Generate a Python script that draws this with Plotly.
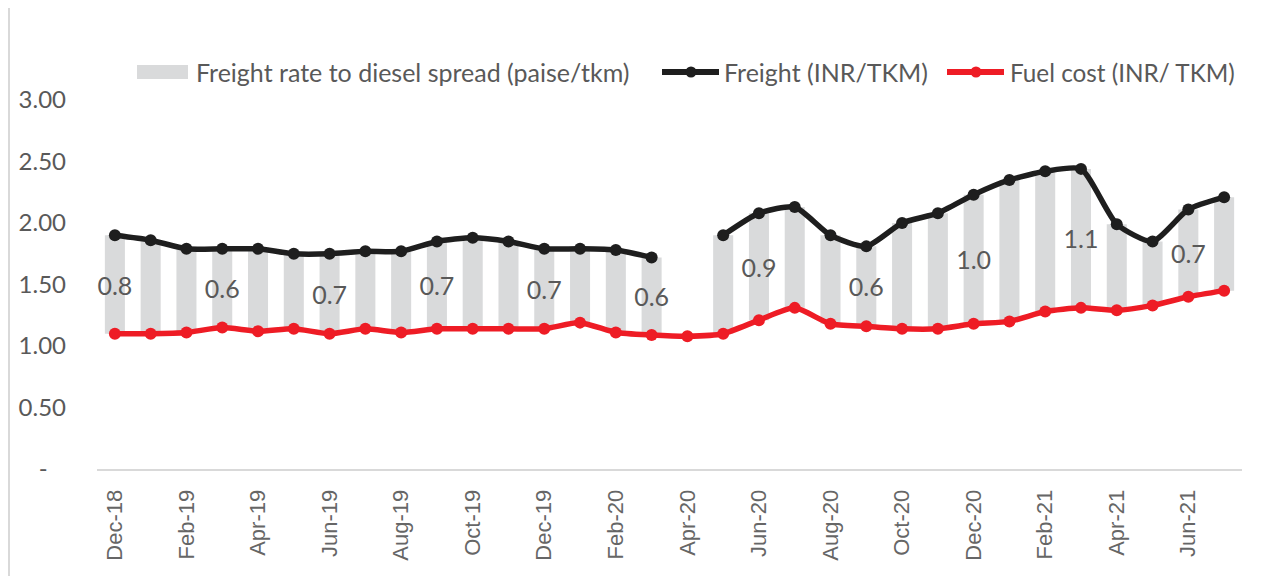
import plotly.graph_objects as go

months = ["Dec-18", "Jan-19", "Feb-19", "Mar-19", "Apr-19", "May-19", "Jun-19", "Jul-19",
          "Aug-19", "Sep-19", "Oct-19", "Nov-19", "Dec-19", "Jan-20", "Feb-20", "Mar-20",
          "Apr-20", "May-20", "Jun-20", "Jul-20", "Aug-20", "Sep-20", "Oct-20", "Nov-20",
          "Dec-20", "Jan-21", "Feb-21", "Mar-21", "Apr-21", "May-21", "Jun-21", "Jul-21"]

freight = [1.90, 1.86, 1.79, 1.79, 1.79, 1.75, 1.75, 1.77, 1.77, 1.85, 1.88, 1.85,
           1.79, 1.79, 1.78, 1.72, None, 1.90, 2.08, 2.13, 1.90, 1.81, 2.00, 2.08,
           2.23, 2.35, 2.42, 2.44, 1.99, 1.85, 2.11, 2.21]

fuel = [1.10, 1.10, 1.11, 1.15, 1.12, 1.14, 1.10, 1.14, 1.11, 1.14, 1.14, 1.14,
        1.14, 1.19, 1.11, 1.09, 1.08, 1.10, 1.21, 1.31, 1.18, 1.16, 1.14, 1.14,
        1.18, 1.20, 1.28, 1.31, 1.29, 1.33, 1.40, 1.45]

spread_labels = ["0.8", "", "", "0.6", "", "", "0.7", "", "", "0.7", "", "",
                 "0.7", "", "", "0.6", "", "", "0.9", "", "", "0.6", "", "",
                 "1.0", "", "", "1.1", "", "", "0.7", ""]

x_tick_labels = months[::2]
y_tick_vals = [0, 0.5, 1.0, 1.5, 2.0, 2.5, 3.0]
y_tick_text = ["-\u00a0\u00a0\u00a0", "0.50", "1.00", "1.50", "2.00", "2.50", "3.00"]

legend_names = ["Freight rate to diesel spread (paise/tkm)", "Freight (INR/TKM)", "Fuel cost (INR/ TKM)"]

spread = [None if f is None else f - c for f, c in zip(freight, fuel)]

GRAY_TXT = "#595959"
BAR_C = "#D9DADB"
BLACK_C = "#1E1E1E"
RED_C = "#EE1C25"

W, H = 1262, 576
# page body has an 8px margin, compensate in margins
ML, MR, MT, MB = 89, 28, 92, 115
PW = W - ML - MR
PH = H - MT - MB


def px(x):
    return (x - 8 - ML) / PW


def py(y):
    return 1 - (y - 8 - MT) / PH


fig = go.Figure()
fig.add_trace(go.Bar(
    x=months, y=spread, base=fuel, name=legend_names[0], showlegend=False,
    marker=dict(color=BAR_C, line=dict(width=0)),
    text=spread_labels, textposition="inside", insidetextanchor="middle",
    textangle=0, constraintext="none",
    textfont=dict(family="Lato", size=25, color=GRAY_TXT),
))
fig.add_trace(go.Scatter(
    x=months, y=freight, name=legend_names[1], mode="lines+markers", showlegend=False,
    line=dict(color=BLACK_C, width=5.5, shape="spline", smoothing=0.6),
    marker=dict(color=BLACK_C, size=12), connectgaps=False,
))
fig.add_trace(go.Scatter(
    x=months, y=fuel, name=legend_names[2], mode="lines+markers", showlegend=False,
    line=dict(color=RED_C, width=5.5, shape="spline", smoothing=0.6),
    marker=dict(color=RED_C, size=12),
))

# manual legend (screen-pixel layout converted to paper coords)
ly = 72
shapes = [
    dict(type="rect", xref="paper", yref="paper", x0=px(137), x1=px(188), y0=py(79), y1=py(65),
         fillcolor=BAR_C, line=dict(width=0)),
    dict(type="line", xref="paper", yref="paper", x0=px(662), x1=px(719), y0=py(ly), y1=py(ly),
         line=dict(color=BLACK_C, width=6)),
    dict(type="circle", xref="paper", yref="paper", x0=px(685.5), x1=px(696.5), y0=py(77.5), y1=py(66.5),
         fillcolor=BLACK_C, line=dict(width=0)),
    dict(type="line", xref="paper", yref="paper", x0=px(947), x1=px(1004), y0=py(ly), y1=py(ly),
         line=dict(color=RED_C, width=6)),
    dict(type="circle", xref="paper", yref="paper", x0=px(970.5), x1=px(981.5), y0=py(77.5), y1=py(66.5),
         fillcolor=RED_C, line=dict(width=0)),
    # chart border lines
    dict(type="line", xref="paper", yref="paper", x0=px(9), x1=px(9), y0=-0.4, y1=1.4,
         line=dict(color="#D9D9D9", width=2)),
    dict(type="line", xref="paper", yref="paper", x0=px(1258), x1=px(1258), y0=-0.4, y1=1.4,
         line=dict(color="#D9D9D9", width=2)),
]
annotations = []
for name, xs, fs in zip(legend_names, [194, 722, 1008], [25, 25, 24.3]):
    annotations.append(dict(xref="paper", yref="paper", x=px(xs), y=py(ly), text=name,
                            showarrow=False, xanchor="left", yanchor="middle",
                            font=dict(family="Lato", size=fs, color=GRAY_TXT)))

fig.update_layout(
    width=W, height=H,
    margin=dict(l=ML, r=MR, t=MT, b=MB, autoexpand=False),
    plot_bgcolor="white", paper_bgcolor="white",
    bargap=0.44,
    showlegend=False,
    font=dict(family="Lato", color=GRAY_TXT),
    shapes=shapes,
    annotations=annotations,
)
fig.update_xaxes(
    type="category", categoryorder="array", categoryarray=months,
    tickmode="array", tickvals=x_tick_labels, ticktext=x_tick_labels,
    tickangle=-90, tickfont=dict(family="Liberation Sans", size=22, color="#666666"),
    ticklabelstandoff=10,
    showline=True, linecolor="#D9D9D9", linewidth=2, showgrid=False, ticks="",
    range=[-0.5, len(months) - 0.5],
)
fig.update_yaxes(
    range=[0, 3.0], tickmode="array", tickvals=y_tick_vals, ticktext=y_tick_text,
    tickfont=dict(family="Lato", size=24, color=GRAY_TXT),
    ticklabelstandoff=30,
    showgrid=False, zeroline=False, showline=False, ticks="",
)

fig.write_html("out.html")
